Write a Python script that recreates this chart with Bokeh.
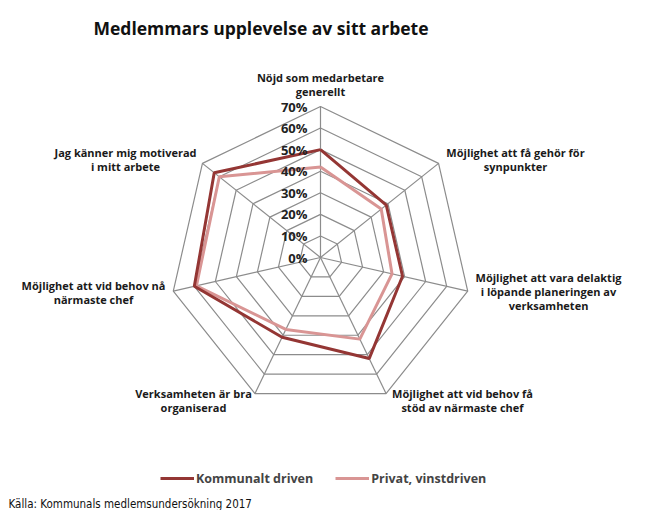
import numpy as np
from bokeh.plotting import figure
from bokeh.models import Legend, LegendItem, Range1d
from bokeh.core.properties import value
from bokeh.embed import file_html
from bokeh.resources import INLINE

title_text = "Medlemmars upplevelse av sitt arbete"
categories = [
    "Nöjd som medarbetare\ngenerellt",
    "Möjlighet att få gehör för\nsynpunkter",
    "Möjlighet att vara delaktig\ni löpande planeringen av\nverksamheten",
    "Möjlighet att vid behov få\nstöd av närmaste chef",
    "Verksamheten är bra\norganiserad",
    "Möjlighet att vid behov nå\nnärmaste chef",
    "Jag känner mig motiverad\ni mitt arbete",
]
kommunalt = [50, 39, 39, 52, 41, 60, 63]
privat = [42, 36, 34, 42, 37, 59, 60]
ticks = [0, 10, 20, 30, 40, 50, 60, 70]
tick_labels = ["0%", "10%", "20%", "30%", "40%", "50%", "60%", "70%"]
series_names = ["Kommunalt driven", "Privat, vinstdriven"]
source_text = "Källa: Kommunals medlemsundersökning 2017"

W, H = 644, 510
scale = 151 / 70.0  # px per percent
cx_px, cy_px = 320, 257
FONT = "Open Sans"

p = figure(width=W, height=H, output_backend="svg", toolbar_location=None,
           min_border=0, outline_line_color=None)
p.x_range = Range1d(-cx_px / scale, (W - cx_px) / scale)
p.y_range = Range1d(-(H - cy_px) / scale, cy_px / scale)
p.axis.visible = False
p.grid.visible = False

def X(px):
    return (px - cx_px) / scale

def Y(py):
    return (cy_px - py) / scale

n = len(categories)
ang = np.deg2rad(90 - np.arange(n) * 360.0 / n)

def poly(vals):
    v = np.asarray(vals, dtype=float)
    xs = list(v * np.cos(ang)) + [v[0] * np.cos(ang[0])]
    ys = list(v * np.sin(ang)) + [v[0] * np.sin(ang[0])]
    return xs, ys

grid_col = "#8c8c8c"
for t in ticks[1:]:
    xs, ys = poly([t] * n)
    p.line(xs, ys, line_color=grid_col, line_width=1.2)
rmax = ticks[-1]
p.multi_line([[0, rmax * np.cos(a)] for a in ang], [[0, rmax * np.sin(a)] for a in ang],
             line_color=grid_col, line_width=1.2)

# series
xs, ys = poly(privat)
r_priv = p.line(xs, ys, line_color="#d99594", line_width=3)
xs, ys = poly(kommunalt)
r_komm = p.line(xs, ys, line_color="#943634", line_width=3)

# tick labels
p.text(x=[-13 / scale] * len(ticks), y=ticks, text=tick_labels,
       text_align="right", text_baseline="middle", text_font=value(FONT),
       text_font_size="13px", text_color="#222222", text_font_style="bold")

# category label centres (px)
lab_pos = [(320, 84), (515, 159), (548, 291), (462, 400),
           (193, 400), (93, 292), (125, 159)]
for lab, (lx, ly) in zip(categories, lab_pos):
    p.text(x=[X(lx)], y=[Y(ly)], text=[lab], text_align="center", text_baseline="middle",
           text_font=value(FONT), text_font_size="11px", text_color="#1a1a1a",
           text_font_style="bold", text_line_height=0.95)

# title
p.text(x=[X(93)], y=[Y(27)], text=[title_text],
       text_align="left", text_baseline="middle", text_font=value(FONT),
       text_font_size="17.5px", text_color="#111111", text_font_style="bold")

# source
p.text(x=[X(8)], y=[Y(503)], text=[source_text],
       text_align="left", text_baseline="middle", text_font=value("DejaVu Sans Condensed"),
       text_font_size="11.5px", text_color="#111111")

legend = Legend(items=[LegendItem(label=series_names[0], renderers=[r_komm]),
                       LegendItem(label=series_names[1], renderers=[r_priv])],
                orientation="horizontal", location=(160, 22),
                border_line_color=None, background_fill_alpha=0,
                label_text_font=FONT, label_text_font_size="12.5px",
                label_text_font_style="bold", glyph_width=34, spacing=22,
                label_standoff=2, padding=6)
p.add_layout(legend, "center")

open("out.html", "w").write(file_html(p, INLINE))
